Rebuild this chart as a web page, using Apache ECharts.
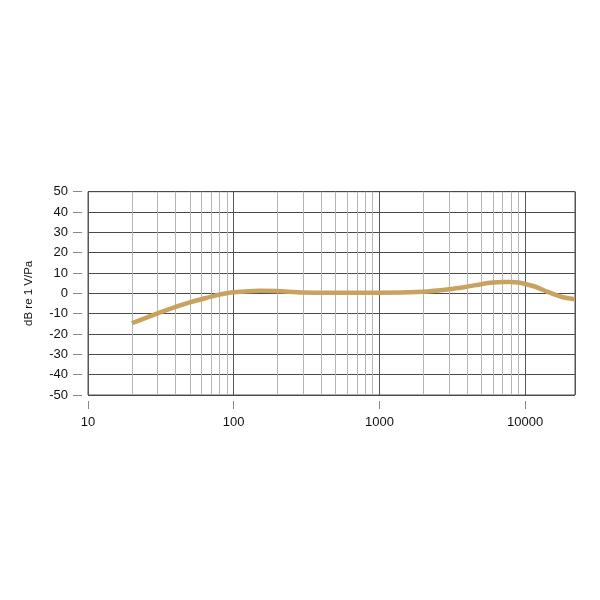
<!DOCTYPE html>
<html><head><meta charset="utf-8">
<script src="https://cdn.jsdelivr.net/npm/echarts@6/dist/echarts.min.js"></script>
<style>html,body{margin:0;padding:0;background:#fff}#c{width:600px;height:600px}</style>
</head><body><div id="c"></div>
<script>
const freq = [20,30,40,50,60,70,80,100,150,200,300,500,1000,2000,3000,4000,5000,6000,7000,8000,9000,10000,12000,14000,16000,18000,20000,22000];
const db = [-14.7,-9.8,-6.6,-4.4,-2.9,-1.6,-0.6,0.5,1.3,1.1,0.4,0.3,0.3,0.8,2.0,3.3,4.5,5.3,5.6,5.6,5.3,4.6,3.0,1.0,-0.6,-1.8,-2.4,-2.9];
const minorGrid = [20,30,40,50,60,70,80,90,200,300,400,500,600,700,800,900,2000,3000,4000,5000,6000,7000,8000,9000];
const yName = 'dB re 1 V/Pa';
const FONT = 'Liberation Sans, Arial, sans-serif';

const chart = echarts.init(document.getElementById('c'));
chart.setOption({
  animation: false,
  grid: {left: 88, right: 25, top: 191.7, bottom: 205, show: true, borderColor: '#555', borderWidth: 1, containLabel: false},
  xAxis: {
    type: 'log', logBase: 10, min: 10, max: 22000, offset: 6,
    axisLine: {show: true, onZero: false, lineStyle: {color: 'rgba(0,0,0,0)'}},
    axisTick: {show: true, length: 8, lineStyle: {color: '#888'}},
    axisLabel: {color: '#111', fontSize: 13, fontFamily: FONT, margin: 15, showMaxLabel: false,
      formatter: v => String(Math.round(v))},
    splitLine: {show: true, lineStyle: {color: '#555', width: 1}},
    minorTick: {show: false}
  },
  yAxis: {
    type: 'value', min: -50, max: 50, interval: 10, offset: 6,
    name: yName, nameLocation: 'middle', nameGap: 47,
    nameTextStyle: {color: '#111', fontSize: 11.5, fontFamily: FONT},
    axisLine: {show: true, onZero: false, lineStyle: {color: 'rgba(0,0,0,0)'}},
    axisTick: {show: true, length: 9, lineStyle: {color: '#888'}},
    axisLabel: {color: '#111', fontSize: 13, fontFamily: FONT, margin: 14},
    splitLine: {show: true, lineStyle: {color: '#4a4a4a', width: 1}}
  },
  series: [
    {
      type: 'line', data: [], z: 1, silent: true,
      markLine: {
        silent: true, symbol: ['none','none'], label: {show: false},
        lineStyle: {color: '#b4b4b4', type: 'solid', width: 1},
        data: minorGrid.map(v => ({xAxis: v}))
      }
    },
    {
      type: 'line', z: 5,
      data: freq.map((f, i) => [f, db[i]]),
      smooth: 0.3, showSymbol: false,
      lineStyle: {color: '#C8A25E', width: 4.5}
    }
  ]
});
</script></body></html>
